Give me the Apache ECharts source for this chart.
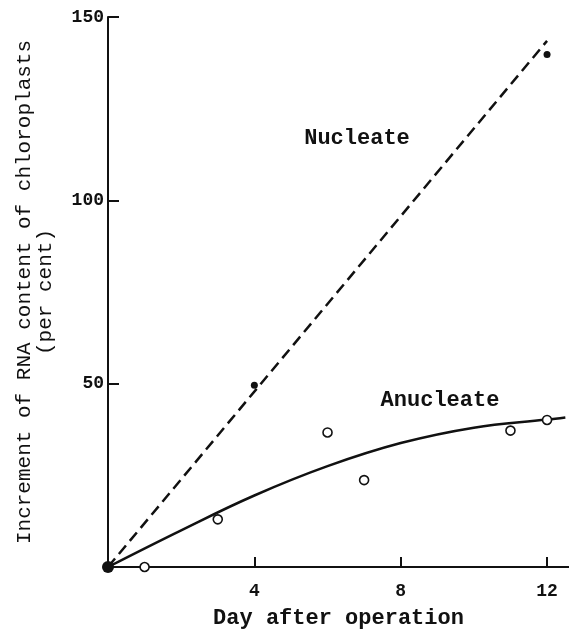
<!DOCTYPE html>
<html>
<head>
<meta charset="utf-8">
<script src="https://cdn.jsdelivr.net/npm/echarts@6/dist/echarts.min.js"></script>
<style>html,body{margin:0;padding:0;background:#fff}#c{width:569px;height:635px}</style>
</head>
<body>
<div id="c"></div>
<script>
// Data
const nucleateDays = [0, 4, 12];
const nucleateValues = [0, 49.6, 139.8];
const anucleateDays = [1, 3, 6, 7, 11, 12];
const anucleateValues = [0, 13, 36.7, 23.7, 37.2, 40.1];
// fitted lines as drawn in the figure
const nucleateFitDays = [0, 12.0];
const nucleateFitValues = [0, 143.5];
const anucleateFitDays = [0, 2, 4, 6, 8, 10, 12, 12.5];
const anucleateFitValues = [0, 10, 19.5, 27.5, 33.8, 38, 40.2, 40.8];
const xTicks = [4, 8, 12];
const yTicks = [50, 100, 150];
const xTitle = 'Day after operation';
const yTitle = 'Increment of RNA content of chloroplasts\n(per cent)';
const seriesNames = ['Nucleate', 'Anucleate'];

const zip = (a, b) => a.map((v, i) => [v, b[i]]);
const FONT = 'Liberation Mono';

const chart = echarts.init(document.getElementById('c'), null, {renderer: 'canvas'});
chart.setOption({
  animation: false,
  backgroundColor: '#fff',
  grid: {left: 108, right: 0, top: 17, bottom: 68, containLabel: false},
  xAxis: {
    type: 'value', min: 0, max: 12.6,
    name: xTitle, nameLocation: 'middle', nameGap: 40,
    nameTextStyle: {fontFamily: FONT, fontSize: 22, fontWeight: 'bold', color: '#111'},
    axisLine: {show: true, onZero: false, lineStyle: {color: '#111', width: 2}},
    axisTick: {show: true, inside: true, length: 10, customValues: xTicks, lineStyle: {color: '#111', width: 2}},
    axisLabel: {show: true, customValues: xTicks, margin: 15, fontFamily: FONT, fontSize: 18, fontWeight: 'bold', color: '#111'},
    splitLine: {show: false}
  },
  yAxis: {
    type: 'value', min: 0, max: 150,
    name: yTitle, nameLocation: 'middle', nameGap: 52,
    nameTextStyle: {fontFamily: FONT, fontSize: 21, color: '#111', lineHeight: 21, align: 'center'},
    axisLine: {show: true, onZero: false, lineStyle: {color: '#111', width: 2}},
    axisTick: {show: true, inside: true, length: 11, customValues: yTicks, lineStyle: {color: '#111', width: 2}},
    axisLabel: {show: true, customValues: yTicks, margin: 4, fontFamily: FONT, fontSize: 18, fontWeight: 'bold', color: '#111'},
    splitLine: {show: false}
  },
  series: [
    {
      name: seriesNames[0] + ' fit', type: 'line', data: zip(nucleateFitDays, nucleateFitValues),
      showSymbol: false, silent: true,
      lineStyle: {color: '#111', width: 2.5, type: [11, 6]}, z: 2
    },
    {
      name: seriesNames[1] + ' fit', type: 'line', data: zip(anucleateFitDays, anucleateFitValues),
      showSymbol: false, smooth: 0.4, silent: true,
      lineStyle: {color: '#111', width: 2.5}, z: 2
    },
    {
      name: seriesNames[0], type: 'scatter', data: zip(nucleateDays, nucleateValues),
      symbol: 'circle', symbolSize: v => (v[0] === 0 ? 12 : 7),
      itemStyle: {color: '#111', opacity: 1}, z: 4
    },
    {
      name: seriesNames[1], type: 'scatter', data: zip(anucleateDays, anucleateValues),
      symbol: 'circle', symbolSize: 9,
      itemStyle: {color: '#fff', borderColor: '#111', borderWidth: 1.6, opacity: 1}, z: 4
    }
  ],
  graphic: [
    {type: 'text', x: 357, y: 138, style: {text: seriesNames[0], font: 'bold 22px "' + FONT + '"', fill: '#111', align: 'center', verticalAlign: 'middle'}},
    {type: 'text', x: 440, y: 400, style: {text: seriesNames[1], font: 'bold 22px "' + FONT + '"', fill: '#111', align: 'center', verticalAlign: 'middle'}}
  ]
});
</script>
</body>
</html>
